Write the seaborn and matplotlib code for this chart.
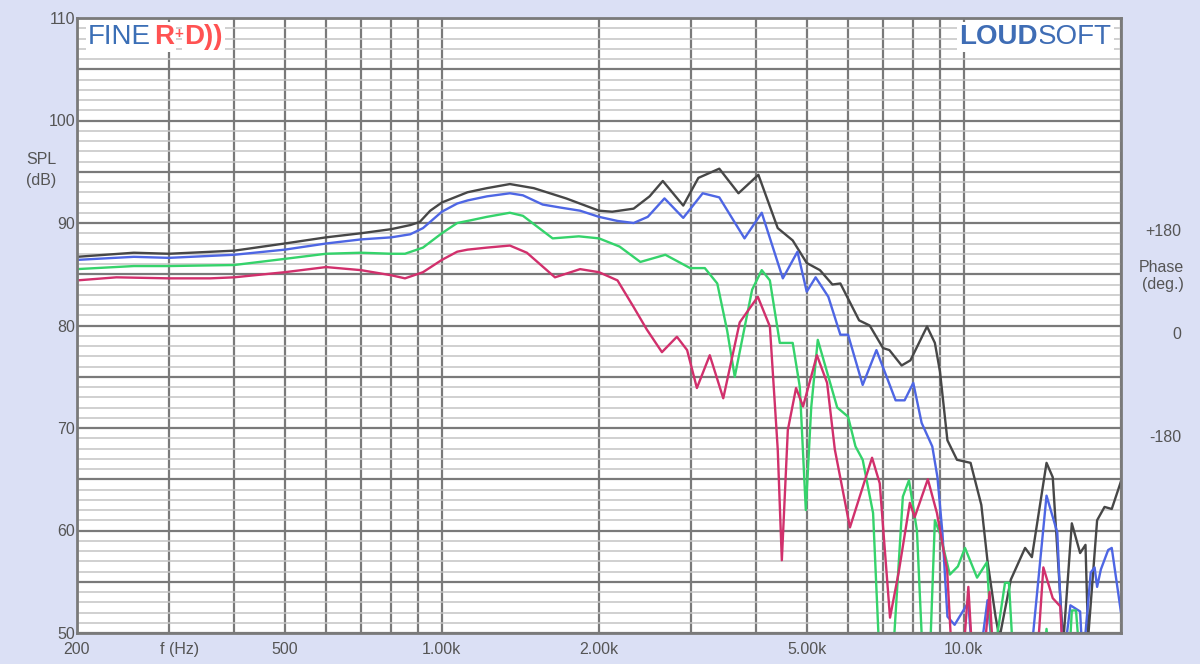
import matplotlib
matplotlib.use("Agg")
import numpy as np
import pandas as pd
import matplotlib.pyplot as plt
from matplotlib.ticker import FixedLocator, MultipleLocator, NullLocator
import seaborn as sns

# frequency response data (Hz, dB)
black_f = [200, 257, 300, 400, 500, 600, 700, 800, 870, 907, 950, 1000, 1120, 1220, 1350,
           1500, 1730, 2000, 2120, 2330, 2500, 2650, 2900, 3100, 3400, 3700, 4040, 4400,
           4700, 5000, 5300, 5600, 5800, 6300, 6600, 7000, 7200, 7600, 7900, 8500, 8800,
           9000, 9300, 9700, 10300, 10800, 11100, 11500, 11700, 12300, 13100, 13500, 14400,
           14800, 15500, 16100, 16700, 17100, 17300, 18000, 18600, 19200, 20000]
black_db = [86.7, 87.1, 87.0, 87.3, 88.0, 88.6, 89.0, 89.4, 89.8, 90.1, 91.2, 92.0, 93.0, 93.4, 93.8,
            93.4, 92.4, 91.2, 91.1, 91.4, 92.6, 94.1, 91.7, 94.4, 95.3, 92.9, 94.7, 89.5,
            88.3, 86.1, 85.4, 84.0, 84.1, 80.5, 80.0, 77.8, 77.6, 76.1, 76.6, 79.9, 78.3,
            75.5, 68.8, 66.9, 66.6, 62.5, 57.0, 51.6, 49.5, 55.2, 58.3, 57.4, 66.6,
            65.2, 49.0, 60.7, 57.8, 58.6, 49.5, 61.0, 62.3, 62.1, 64.8]

blue_f = [200, 257, 300, 400, 500, 600, 700, 800, 870, 920, 1000, 1070, 1120, 1220, 1350,
          1430, 1560, 1690, 1840, 2000, 2170, 2330, 2480, 2670, 2900, 3160, 3400, 3800,
          4100, 4500, 4800, 5000, 5200, 5500, 5800, 6000, 6400, 6800, 7400, 7700, 8000,
          8300, 8700, 8900, 9100, 9300, 9600, 10200, 10400, 10700, 11100, 11400, 13400,
          14400, 15100, 15500, 16000, 16700, 16900, 17500, 17800, 18000, 18300, 18900,
          19200, 20000]
blue_db = [86.4, 86.7, 86.6, 86.9, 87.4, 88.0, 88.4, 88.6, 88.9, 89.5, 91.1, 91.9, 92.2, 92.6, 92.9,
           92.7, 91.8, 91.5, 91.2, 90.6, 90.2, 90.0, 90.6, 92.4, 90.5, 92.9, 92.5, 88.5,
           91.0, 84.6, 87.2, 83.3, 84.7, 82.8, 79.1, 79.1, 74.2, 77.6, 72.7, 72.7, 74.4,
           70.5, 68.2, 65.2, 59.7, 51.6, 50.8, 53.0, 47.0, 47.0, 53.2, 47.0, 47.0,
           63.4, 59.8, 47.0, 52.7, 52.1, 47.0, 55.9, 56.4, 54.5, 56.2, 58.1,
           58.3, 52.0]

green_f = [200, 257, 300, 400, 500, 600, 700, 800, 850, 920, 1000, 1070, 1120, 1220, 1350,
           1430, 1630, 1830, 2000, 2190, 2400, 2680, 2990, 3190, 3370, 3520, 3640, 3930,
           4100, 4250, 4440, 4700, 4850, 4980, 5100, 5250, 5720, 6000, 6200, 6400, 6700,
           6900, 7300, 7640, 7850, 8130, 8350, 8600, 8800, 9000, 9400, 9740, 10050, 10600,
           11070, 11370, 11990, 12200, 12450, 14200, 14400, 14600, 15900, 16100, 16400, 16700]
green_db = [85.5, 85.8, 85.8, 85.9, 86.5, 87.0, 87.1, 87.0, 87.0, 87.6, 89.0, 90.0, 90.2, 90.6, 91.0,
            90.7, 88.5, 88.7, 88.5, 87.7, 86.2, 86.9, 85.6, 85.6, 84.1, 79.5, 75.0, 83.5,
            85.4, 84.4, 78.3, 78.3, 74.0, 62.0, 72.0, 78.6, 72.0, 71.1, 68.2, 66.9, 61.7,
            47.0, 47.0, 63.3, 64.9, 60.0, 47.0, 47.0, 61.0, 59.7, 55.7, 56.5, 58.3, 55.4,
            56.9, 47.0, 54.9, 54.9, 47.0, 47.0, 50.4, 47.0, 47.0, 52.2, 52.2, 47.0]

red_f = [200, 238, 300, 360, 400, 500, 600, 700, 800, 850, 920, 1000, 1070, 1120, 1220,
         1350, 1455, 1647, 1840, 2000, 2170, 2330, 2470, 2640, 2820, 2950, 3080, 3260,
         3460, 3720, 4030, 4250, 4400, 4480, 4600, 4770, 4920, 5230, 5470, 5660, 6050,
         6670, 6900, 7220, 7500, 7880, 8050, 8530, 8880, 9290, 9500, 9950, 10200, 10400,
         10900, 11200, 11400, 13800, 14200, 14800, 15300, 15500]
red_db = [84.4, 84.7, 84.6, 84.6, 84.7, 85.2, 85.7, 85.4, 84.9, 84.6, 85.2, 86.4, 87.2, 87.4, 87.6,
          87.8, 87.1, 84.7, 85.5, 85.2, 84.4, 81.8, 79.6, 77.4, 78.9, 77.6, 73.9, 77.1,
          72.9, 80.3, 82.8, 79.9, 67.9, 57.1, 69.8, 73.9, 72.1, 77.1, 74.4, 67.9, 60.3,
          67.1, 64.6, 51.5, 55.9, 62.7, 61.3, 65.0, 61.7, 56.1, 47.0, 47.0, 54.5, 47.0,
          47.0, 54.0, 47.0, 47.0, 56.4, 53.4, 52.6, 47.0]

grid_freqs = [200, 300, 400, 500, 600, 700, 800, 900, 1000, 2000, 3000, 4000, 5000,
              6000, 7000, 8000, 9000, 10000, 20000]
x_labels = ["200", "", "", "500", "", "", "", "", "1.00k", "2.00k", "", "", "5.00k",
            "", "", "", "", "10.0k", ""]
y_major = [50, 55, 60, 65, 70, 75, 80, 85, 90, 95, 100, 105, 110]
y_labels = ["50", "", "60", "", "70", "", "80", "", "90", "", "100", "", "110"]
phase_labels = ["+180", "0", "-180"]
phase_rows = [232, 335, 438]  # pixel rows on the right-hand scale

palette = {"black": "#474747", "blue": "#4e66e4", "green": "#35d36b", "red": "#d1306c"}

frames = []
for name, f, db in [("black", black_f, black_db), ("blue", blue_f, blue_db),
                    ("green", green_f, green_db), ("red", red_f, red_db)]:
    frames.append(pd.DataFrame({"freq": f, "spl": db, "curve": name}))
df = pd.concat(frames, ignore_index=True)

sns.set_theme(style="white")
plt.rcParams["font.family"] = ["Liberation Sans", "DejaVu Sans"]

bg = "#dbe0f5"
txt = "#555555"
fs = 11.5
fig = plt.figure(figsize=(12, 6.64), dpi=100, facecolor=bg)
ax = fig.add_axes([77 / 1200, 31 / 664, 1044 / 1200, 615 / 664])
ax.set_facecolor("white")
ax.set_xscale("log")

sns.lineplot(data=df, x="freq", y="spl", hue="curve", palette=palette,
             estimator=None, sort=False, legend=False, lw=1.7,
             solid_joinstyle="round", ax=ax)

ax.set_xlim(200, 20000)
ax.set_ylim(50, 110)
ax.xaxis.set_major_locator(FixedLocator(grid_freqs))
ax.xaxis.set_minor_locator(NullLocator())
ax.set_xticklabels(x_labels)
ax.yaxis.set_major_locator(FixedLocator(y_major))
ax.yaxis.set_minor_locator(MultipleLocator(1))
ax.set_yticklabels(y_labels)
ax.tick_params(which="both", length=0, colors=txt, labelsize=fs)
ax.tick_params(axis="x", pad=6.5)
ax.tick_params(axis="y", pad=1.5)
ax.set_xlabel("")
ax.set_ylabel("")
ax.set_axisbelow(True)
ax.grid(which="major", color="#7a7a7a", lw=1.6)
ax.grid(which="minor", axis="y", color="#c4c4c4", lw=1.1)
for s in ax.spines.values():
    s.set_color("#7a7a7a")
    s.set_linewidth(2)

# axis captions
ax.text(314, -0.015, "f (Hz)", transform=ax.get_xaxis_transform(), ha="center", va="top",
        fontsize=fs, color=txt)
fig.text(26 / 1200, 1 - 170 / 664, "SPL\n(dB)", ha="left", va="center", fontsize=fs,
         color=txt, linespacing=1.45)
for lab, row in zip(phase_labels, phase_rows):
    fig.text(1181 / 1200, 1 - row / 664, lab, ha="right", va="center", fontsize=fs, color=txt)
fig.text(1184 / 1200, 1 - 276 / 664, "Phase\n(deg.)", ha="right", va="center", fontsize=fs,
         color=txt, linespacing=1.2)

# logos
box = dict(facecolor="white", edgecolor="none", pad=1.5)
fine = ax.text(0.0105, 0.969, "FINE", transform=ax.transAxes, ha="left", va="center",
               fontsize=20, color="#3b6fb6", bbox=box)
r = ax.annotate("R", xy=(1, 0), xycoords=fine, xytext=(2, 0), textcoords="offset points",
                ha="left", va="bottom", fontsize=20, fontweight="bold", color="#ff5252", bbox=box)
ax.annotate("D))", xy=(1, 0), xycoords=r, xytext=(7.5, 0), textcoords="offset points",
            ha="left", va="bottom", fontsize=20, fontweight="bold", color="#ff5252", bbox=box)
ax.annotate("+", xy=(1, 0), xycoords=r, xytext=(0.3, 6.5), textcoords="offset points",
            ha="left", va="bottom", fontsize=11, fontweight="bold", color="#ff5252", zorder=10)
soft = ax.text(0.991, 0.969, "SOFT", transform=ax.transAxes, ha="right", va="center",
               fontsize=20, color="#3f6db5", bbox=box)
ax.annotate("LOUD", xy=(0, 0), xycoords=soft, ha="right", va="bottom", fontsize=20,
            fontweight="bold", color="#3f6db5", bbox=box)

fig.savefig("out.png", dpi=100, facecolor=bg)
